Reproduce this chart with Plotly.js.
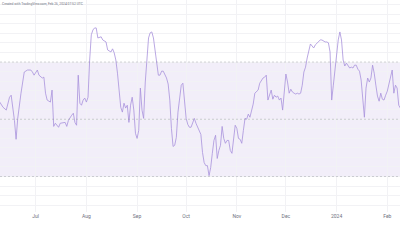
<!DOCTYPE html>
<html>
<head>
<meta charset="utf-8">
<script src="https://cdn.plot.ly/plotly-3.0.1.min.js"></script>
<style>
html,body{margin:0;padding:0;background:#fff;}
#chart{width:400px;height:240px;}
</style>
</head>
<body>
<div id="chart"></div>
<script>
const dates = [
"2023-06-09","2023-06-11","2023-06-13","2023-06-15","2023-06-16","2023-06-18","2023-06-19","2023-06-20","2023-06-22","2023-06-23",
"2023-06-24","2023-06-26","2023-06-28","2023-06-29","2023-06-30","2023-07-02","2023-07-03","2023-07-05","2023-07-06","2023-07-07",
"2023-07-08","2023-07-10","2023-07-11","2023-07-12","2023-07-13","2023-07-15","2023-07-16","2023-07-19","2023-07-20","2023-07-21",
"2023-07-22","2023-07-23","2023-07-24","2023-07-25","2023-07-26","2023-07-27","2023-07-28","2023-07-29","2023-07-30","2023-07-31",
"2023-08-01","2023-08-02","2023-08-03","2023-08-04","2023-08-05","2023-08-06","2023-08-07","2023-08-08","2023-08-10","2023-08-11",
"2023-08-13","2023-08-14","2023-08-16","2023-08-17","2023-08-18","2023-08-19","2023-08-20","2023-08-21","2023-08-22","2023-08-23",
"2023-08-24","2023-08-25","2023-08-26","2023-08-27","2023-08-28","2023-08-29","2023-08-30","2023-08-31","2023-09-01","2023-09-02",
"2023-09-03","2023-09-04","2023-09-05","2023-09-06","2023-09-07","2023-09-08","2023-09-09","2023-09-10","2023-09-11","2023-09-12",
"2023-09-13","2023-09-14","2023-09-15","2023-09-16","2023-09-17","2023-09-18","2023-09-19","2023-09-20","2023-09-21","2023-09-22",
"2023-09-23","2023-09-24","2023-09-25","2023-09-26","2023-09-27","2023-09-28","2023-09-29","2023-09-30","2023-10-01","2023-10-02",
"2023-10-03","2023-10-04","2023-10-05","2023-10-06","2023-10-07","2023-10-08","2023-10-09","2023-10-10","2023-10-11","2023-10-12",
"2023-10-13","2023-10-14","2023-10-15","2023-10-16","2023-10-17","2023-10-18","2023-10-19","2023-10-20","2023-10-21","2023-10-22",
"2023-10-23","2023-10-24","2023-10-25","2023-10-26","2023-10-27","2023-10-28","2023-10-29","2023-10-30","2023-10-31","2023-11-01",
"2023-11-02","2023-11-03","2023-11-04","2023-11-05","2023-11-06","2023-11-07","2023-11-08","2023-11-09","2023-11-10","2023-11-11",
"2023-11-12","2023-11-13","2023-11-14","2023-11-15","2023-11-16","2023-11-17","2023-11-18","2023-11-19","2023-11-20","2023-11-21",
"2023-11-22","2023-11-23","2023-11-24","2023-11-25","2023-11-26","2023-11-27","2023-11-28","2023-11-29","2023-11-30","2023-12-01",
"2023-12-02","2023-12-03","2023-12-04","2023-12-05","2023-12-06","2023-12-07","2023-12-08","2023-12-09","2023-12-10","2023-12-11",
"2023-12-12","2023-12-13","2023-12-14","2023-12-15","2023-12-16","2023-12-17","2023-12-18","2023-12-19","2023-12-20","2023-12-21",
"2023-12-22","2023-12-23","2023-12-24","2023-12-25","2023-12-26","2023-12-27","2023-12-28","2023-12-29","2023-12-30","2023-12-31",
"2024-01-01","2024-01-02","2024-01-03","2024-01-04","2024-01-05","2024-01-06","2024-01-07","2024-01-08","2024-01-09","2024-01-10",
"2024-01-11","2024-01-12","2024-01-13","2024-01-14","2024-01-15","2024-01-16","2024-01-17","2024-01-18","2024-01-19","2024-01-20",
"2024-01-21","2024-01-22","2024-01-23","2024-01-24","2024-01-25","2024-01-26","2024-01-27","2024-01-28","2024-01-29","2024-01-30",
"2024-01-31","2024-02-01","2024-02-02","2024-02-03","2024-02-04","2024-02-05","2024-02-06","2024-02-07","2024-02-08","2024-02-09"
];
const rsi = [
56.0,54.2,53.2,57.7,58.4,49.6,43.0,50.3,59.1,63.7,
66.5,67.2,67.2,66.5,65.4,67.2,65.4,64.4,64.7,59.1,
56.7,56.0,60.2,47.5,48.6,47.2,48.6,48.9,47.5,49.6,
50.7,51.4,52.1,48.9,47.9,65.4,55.6,54.9,56.7,57.4,
56.0,57.7,70.7,79.5,81.2,81.9,81.9,78.4,78.8,77.7,
77.0,74.2,73.5,74.6,73.2,70.7,66.1,60.2,54.2,52.5,
55.6,53.9,54.9,48.9,54.9,57.7,53.2,45.1,43.3,46.1,
60.9,53.2,50.3,63.0,71.4,78.4,80.2,80.5,78.4,73.5,
70.0,65.4,65.4,66.8,66.8,65.8,64.4,62.3,56.7,46.8,
40.5,40.9,43.7,52.5,57.7,61.9,62.6,54.9,50.3,48.2,
47.2,47.2,48.9,50.3,48.6,47.2,46.1,44.7,38.4,34.9,
33.8,33.8,30.3,33.1,38.1,42.6,44.4,36.3,39.1,40.9,
47.5,43.3,41.6,42.6,42.6,39.1,38.1,43.7,47.9,46.8,
43.3,43.0,41.6,46.1,50.3,50.0,51.8,50.7,53.2,55.3,
59.1,59.5,60.2,62.6,63.7,64.4,64.7,65.4,56.7,58.4,
60.2,57.0,58.4,57.7,58.1,56.7,57.4,53.2,58.4,65.8,
63.0,59.1,60.5,59.5,59.1,58.8,59.1,58.8,59.1,61.9,
66.5,68.2,71.4,73.5,76.3,75.6,74.9,76.0,76.7,77.4,
77.7,77.7,77.4,77.0,77.0,76.7,73.5,56.7,61.9,67.2,
72.8,77.7,80.5,77.7,70.7,68.6,69.6,68.6,67.9,68.2,
67.9,68.9,68.9,67.5,66.8,63.7,56.7,50.7,60.9,64.4,
63.0,64.4,68.9,66.1,61.9,58.1,56.3,59.1,57.0,56.7,
58.4,59.8,62.3,65.4,67.2,59.1,61.9,60.9,54.9,53.9
];
const tickDates = ["2023-07-01","2023-08-01","2023-09-01","2023-10-01","2023-11-01","2023-12-01","2024-01-01","2024-02-01"];
const tickLabels = ["Jul","Aug","Sep","Oct","Nov","Dec","2024","Feb"];
const upperBand = 70, middleBand = 50, lowerBand = 30;
const watermark = "Created with TradingView.com, Feb 26, 2024 07:52 UTC";

const trace = {
  x: dates, y: rsi, type: "scatter", mode: "lines",
  line: {color: "#a892dc", width: 0.8},
  hoverinfo: "skip"
};
const dashLine = (lvl) => ({
  type: "line", xref: "paper", x0: 0, x1: 1, yref: "y", y0: lvl, y1: lvl,
  line: {color: "rgba(120,123,134,0.4)", width: 0.8, dash: "2px,2px"}, layer: "above"
});
const layout = {
  width: 400, height: 240,
  margin: {l: 0, r: 0, t: 0, b: 28},
  paper_bgcolor: "#ffffff", plot_bgcolor: "#ffffff",
  showlegend: false,
  xaxis: {
    type: "date",
    range: ["2023-06-09 04:00", "2024-02-08 18:30"],
    tickmode: "array", tickvals: tickDates, ticktext: tickLabels,
    showgrid: true, gridcolor: "#f2f2f5", gridwidth: 1,
    zeroline: false, showline: false, ticks: "",
    tickfont: {family: "Roboto, 'DejaVu Sans', sans-serif", size: 5, color: "#6f7280"}
  },
  yaxis: {
    range: [17.6, 91.66],
    tick0: 50, dtick: 10/3,
    showgrid: true, gridcolor: "#f2f2f5", gridwidth: 1,
    zeroline: false, showline: false, showticklabels: false, ticks: ""
  },
  shapes: [
    {type: "rect", xref: "paper", x0: 0, x1: 1, yref: "y", y0: lowerBand, y1: upperBand,
     fillcolor: "rgba(126,87,194,0.1)", line: {width: 0}, layer: "below"},
    dashLine(upperBand),
    dashLine(middleBand),
    dashLine(lowerBand)
  ],
  annotations: [{
    text: watermark, xref: "paper", yref: "paper", x: 0, y: 1,
    xanchor: "left", yanchor: "top", showarrow: false,
    font: {family: "Roboto, 'DejaVu Sans', sans-serif", size: 3.3, color: "#6f7280"}
  }]
};
Plotly.newPlot("chart", [trace], layout, {staticPlot: true, displayModeBar: false});
</script>
</body>
</html>
